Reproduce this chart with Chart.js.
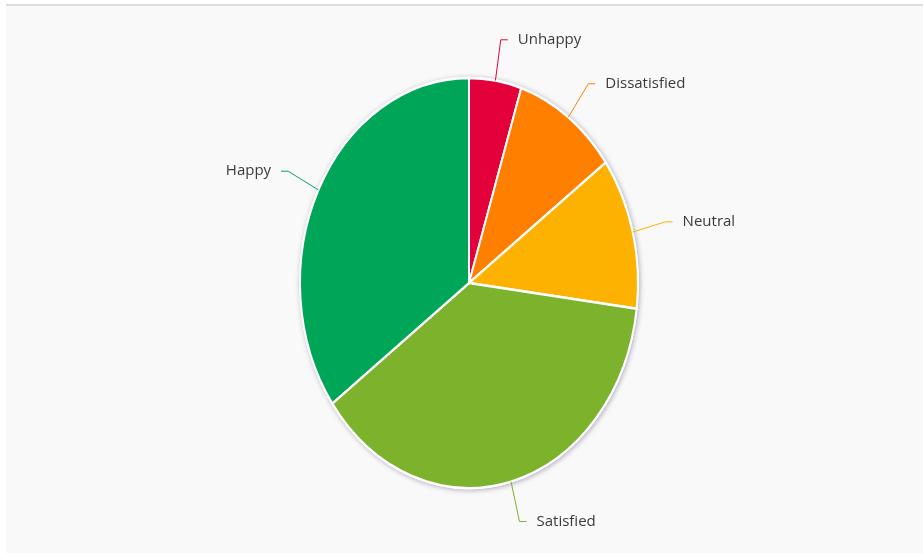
<!DOCTYPE html>
<html>
<head>
<meta charset="utf-8">
<script src="https://cdn.jsdelivr.net/npm/chart.js@4/dist/chart.umd.min.js"></script>
<style>
  html, body { margin: 0; padding: 0; background: #ffffff; }
  #panel {
    position: absolute; left: 6px; top: 4px; width: 917px; height: 549px;
    background: #f9f9f9; border-top: 2px solid #dcdcdc; box-sizing: border-box;
  }
  #wrap { position: absolute; left: 0; top: 0; width: 923px; height: 553px; }
</style>
</head>
<body>
<div id="panel"></div>
<div id="wrap"><canvas id="c" width="923" height="553"></canvas></div>
<script>
// Satisfaction survey shares (percent), clockwise from 12 o'clock
const categories = ['Unhappy', 'Dissatisfied', 'Neutral', 'Satisfied', 'Happy'];
const shares = [5, 10, 12, 38, 35];
const sliceColors = ['#e3003b', '#ff8000', '#fdb100', '#7db22c', '#00a658'];

const RX = 169;            // horizontal radius of the pie
const Y_STRETCH = 205 / 169; // vertical stretch of the pie
const LABEL_GAP = 34;      // distance from rim to connector bend
const ELBOW = 7;           // horizontal part of connectors
const TEXT_GAP = 10;

// Stretch the pie vertically into an ellipse and give it a soft shadow
const ellipsePie = {
  id: 'ellipsePie',
  beforeDatasetsDraw(chart) {
    const arc = chart.getDatasetMeta(0).data[0];
    const ctx = chart.ctx;
    ctx.save();
    ctx.translate(arc.x, arc.y);
    ctx.scale(1, Y_STRETCH);
    ctx.translate(-arc.x, -arc.y);
    ctx.save();
    ctx.shadowColor = 'rgba(80, 70, 110, 0.45)';
    ctx.shadowBlur = 5;
    ctx.shadowOffsetX = 1;
    ctx.shadowOffsetY = 1;
    ctx.beginPath();
    ctx.arc(arc.x, arc.y, arc.outerRadius + 1, 0, Math.PI * 2);
    ctx.fillStyle = '#ffffff';
    ctx.fill();
    ctx.restore();
  },
  afterDatasetsDraw(chart) {
    chart.ctx.restore();
  }
};

// Outside labels with elbow connectors, placed from each arc's mid-angle
const sliceLabels = {
  id: 'sliceLabels',
  afterDraw(chart) {
    const ctx = chart.ctx;
    const meta = chart.getDatasetMeta(0);
    ctx.save();
    ctx.font = '15px "Open Sans"';
    ctx.textBaseline = 'middle';
    meta.data.forEach((arc, i) => {
      const mid = (arc.startAngle + arc.endAngle) / 2;
      const cx = arc.x, cy = arc.y, r = arc.outerRadius;
      const ux = Math.cos(mid), uy = Math.sin(mid);
      const ex = cx + r * ux, ey = cy + r * uy * Y_STRETCH;
      const R = r + LABEL_GAP;
      const bx = cx + R * ux, by = cy + R * uy * Y_STRETCH;
      const right = ux >= 0;
      const tx = bx + (right ? ELBOW : -ELBOW);
      ctx.strokeStyle = sliceColors[i];
      ctx.lineWidth = 1;
      ctx.beginPath();
      ctx.moveTo(ex, ey);
      ctx.lineTo(bx, by);
      ctx.lineTo(tx, by);
      ctx.stroke();
      ctx.fillStyle = '#3a3a3a';
      ctx.textAlign = right ? 'left' : 'right';
      ctx.fillText(categories[i], tx + (right ? TEXT_GAP : -TEXT_GAP), by);
    });
    ctx.restore();
  }
};

new Chart(document.getElementById('c'), {
  type: 'pie',
  data: {
    labels: categories,
    datasets: [{
      data: shares,
      backgroundColor: sliceColors,
      borderColor: '#ffffff',
      borderWidth: 2
    }]
  },
  options: {
    responsive: false,
    animation: false,
    radius: RX,
    layout: { padding: { left: 15, right: 0, top: 13, bottom: 0 } },
    plugins: {
      legend: { display: false },
      tooltip: { enabled: false }
    },
    events: []
  },
  plugins: [ellipsePie, sliceLabels]
});
</script>
</body>
</html>
